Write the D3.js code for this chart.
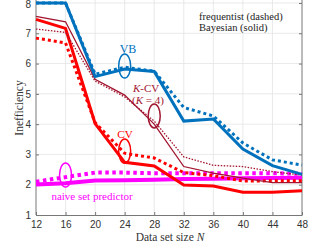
<!DOCTYPE html>
<html><head><meta charset="utf-8">
<script src="https://cdn.jsdelivr.net/npm/d3@7"></script>
<style>body{margin:0;background:#fff}svg{display:block}</style>
</head><body><svg id="c" width="314" height="251"></svg>
<script>
const N = [12,16,20,24,28,32,36,40,44,48];
const xTicks = [12,16,20,24,28,32,36,40,44,48];
const yTicks = [1,2,3,4,5,6,7,8];
const vbBayes = [8,8,5.57,5.82,5.74,4.1,4.17,3.18,2.63,2.34];
const vbFreq  = [8,8,5.65,5.88,5.75,4.55,4.27,3.38,2.82,2.65];
const kcvBayes = [7.56,7.38,5.48,4.96,4.0,2.6,2.38,2.22,2.07,2.07];
const kcvFreq  = [7.14,7.03,5.42,4.9,4.1,2.92,2.64,2.6,2.43,2.32];
const cvBayes = [7.46,7.16,4.02,2.74,2.62,1.99,1.96,1.75,1.75,1.8];
const cvFreq  = [6.84,6.68,4.05,3.04,2.88,2.4,2.3,2.12,2.13,2.13];
const naiveBayes = [2.01,2.05,2.14,2.15,2.16,2.19,2.2,2.21,2.22,2.23];
const naiveFreq  = [2.1,2.25,2.4,2.4,2.38,2.38,2.38,2.38,2.38,2.36];

const svg = d3.select("#c");
const x = d3.scaleLinear().domain([12,48]).range([36,302]);
const y = d3.scaleLinear().domain([1,8]).range([215,3]);
const topY = 0;

// grid
svg.append("g").selectAll("line").data(xTicks.slice(1,-1)).join("line")
  .attr("x1",d=>x(d)).attr("x2",d=>x(d)).attr("y1",topY).attr("y2",y(1))
  .attr("stroke","#e3e3e3").attr("stroke-width",0.8);
svg.append("g").selectAll("line").data(yTicks.slice(1)).join("line")
  .attr("x1",x(12)).attr("x2",x(48)).attr("y1",d=>y(d)).attr("y2",d=>y(d))
  .attr("stroke","#e3e3e3").attr("stroke-width",0.8);

// axes
const xa = svg.append("g").attr("transform",`translate(0,${y(1)})`)
  .call(d3.axisBottom(x).tickValues(xTicks).tickSize(-3).tickPadding(6).tickSizeOuter(0));
const ya = svg.append("g").attr("transform",`translate(${x(12)},0)`)
  .call(d3.axisLeft(y).tickValues(yTicks).tickFormat(d3.format("d")).tickSize(-3).tickPadding(5).tickSizeOuter(0));
const ya2 = svg.append("g").attr("transform",`translate(${x(48)},0)`)
  .call(d3.axisRight(y).tickValues(yTicks).tickSize(-3).tickFormat("").tickSizeOuter(0));
[xa,ya,ya2].forEach(a=>{
  a.select(".domain").attr("stroke","#777").attr("stroke-width",1);
  a.selectAll(".tick line").attr("stroke","#777");
  a.selectAll("text").attr("font-family","Liberation Sans, Arial, sans-serif").attr("font-size",10).attr("fill","#333");
});
ya.select(".domain").attr("d",`M0,${topY}V${y(1)}`);
ya2.select(".domain").attr("d",`M0,${topY}V${y(1)}`);
ya.selectAll(".tick text").filter(d=>d===8).attr("dy","0.45em");

const line = d3.line().x((d,i)=>x(N[i])).y(d=>y(d));
function draw(data,color,w,dash){
  svg.append("path").datum(data).attr("d",line).attr("fill","none")
    .attr("stroke",color).attr("stroke-width",w)
    .attr("stroke-dasharray",dash||null).attr("stroke-linejoin","miter");
}
const blue="#0072BD", red="#FF0000", maroon="#A2142F", mag="#FF00FF";
draw(naiveFreq,mag,4,"3.5,3.5");
draw(naiveBayes,mag,4);
draw(cvFreq,red,3,"3,3");
draw(cvBayes,red,3);
draw(kcvFreq,maroon,1.3,"1.5,1.5");
draw(kcvBayes,maroon,1.3);
draw(vbFreq,blue,3,"3,3");
draw(vbBayes,blue,3);

// ellipses
function ell(cx,cy,color){
  svg.append("ellipse").attr("cx",x(cx)).attr("cy",y(cy)).attr("rx",6).attr("ry",12)
    .attr("fill","none").attr("stroke",color).attr("stroke-width",1.5);
}
ell(24,5.92,blue);
ell(28,4.27,maroon);
ell(24,3.11,red);
ell(16,2.32,mag);

function txt(tx,ty,s,color,size,anchor){
  return svg.append("text").attr("x",tx).attr("y",ty).attr("fill",color)
    .attr("font-family","Liberation Serif, serif").attr("font-size",size||11)
    .attr("text-anchor",anchor||"start").text(s);
}
txt(128,53,"VB",blue,12,"middle");
const k1 = txt(133,92,"",maroon,11);
k1.append("tspan").attr("font-style","italic").text("K");
k1.append("tspan").text("-CV");
const k2 = txt(132,104,"",maroon,11);
k2.append("tspan").text("(");
k2.append("tspan").attr("font-style","italic").text("K");
k2.append("tspan").text(" = 4)");
txt(125,138,"CV",red,11,"middle");
txt(92,200,"naive set predictor",mag,11,"middle");
txt(199,20,"frequentist (dashed)","#222",10.5);
txt(199,31,"Bayesian (solid)","#222",10.5);

// axis labels
const xl = txt(170,241,"Data set size ","#333",11.5,"middle");
xl.append("tspan").attr("font-style","italic").text("N");
svg.append("text").attr("transform",`translate(23,108) rotate(-90)`)
  .attr("text-anchor","middle").attr("font-family","Liberation Serif, serif")
  .attr("font-size",11.5).attr("fill","#333").text("Inefficiency");
</script></body></html>
